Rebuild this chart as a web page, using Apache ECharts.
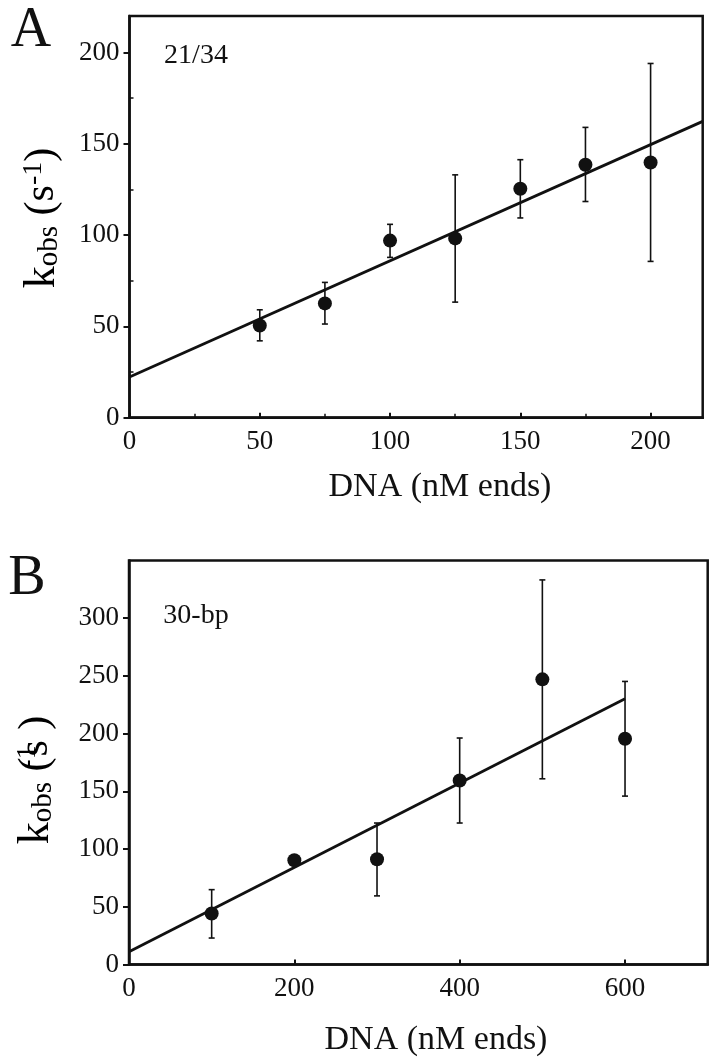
<!DOCTYPE html>
<html>
<head>
<meta charset="utf-8">
<style>
  html, body { margin: 0; padding: 0; background: #ffffff; }
  #chart { width: 716px; height: 1062px; }
</style>
<script src="https://cdn.jsdelivr.net/npm/echarts@6/dist/echarts.min.js"></script>
</head>
<body>
<div id="chart"></div>
<script>
// ---------- Panel A (21/34) ----------
const xA   = [50, 75, 100, 125, 150, 175, 200];
const yA   = [50.5, 62.6, 97.0, 98.2, 125.4, 138.5, 139.8];
const loA  = [42.1, 51.3, 87.8, 63.3, 109.4, 118.4, 85.6];
const hiA  = [59.1, 74.1, 105.9, 133.0, 141.3, 159.0, 194.0];
const fitXA = [0, 220];
const fitYA = [22.3, 162.3];
const xTicksA = [0, 50, 100, 150, 200];
const xMinorA = [25, 75, 125, 175];
const yTicksA = [0, 50, 100, 150, 200];
const yMinorA = [25, 75, 125, 175];

// ---------- Panel B (30-bp) ----------
const xB   = [100, 200, 300, 400, 500, 600];
const yB   = [44.3, 90.3, 91.2, 159.4, 247.0, 195.6];
const loB  = [23.0, null, 59.5, 122.6, 160.9, 145.9];
const hiB  = [64.9, null, 122.6, 196.2, 333.1, 245.2];
const fitXB = [0, 600];
const fitYB = [11.1, 230.3];
const xTicksB = [0, 200, 400, 600];
const yTicksB = [0, 50, 100, 150, 200, 250, 300];

const INK = '#111111';
const SERIF = '"Liberation Serif", "DejaVu Serif", "Times New Roman", serif';

const chart = echarts.init(document.getElementById('chart'), null, { renderer: 'canvas' });

function errRender(params, api) {
  const x = api.value(0), lo = api.value(1), hi = api.value(2);
  const pLo = api.coord([x, lo]);
  const pHi = api.coord([x, hi]);
  const cap = 3;
  const st = { stroke: INK, lineWidth: 1.6 };
  return {
    type: 'group',
    children: [
      { type: 'line', shape: { x1: pLo[0], y1: pLo[1], x2: pHi[0], y2: pHi[1] }, style: st },
      { type: 'line', shape: { x1: pHi[0] - cap, y1: pHi[1], x2: pHi[0] + cap, y2: pHi[1] }, style: st },
      { type: 'line', shape: { x1: pLo[0] - cap, y1: pLo[1], x2: pLo[0] + cap, y2: pLo[1] }, style: st }
    ]
  };
}

function mainX(grid, min, max, ticks) {
  return {
    gridIndex: grid, type: 'value', min: min, max: max, position: 'bottom',
    axisLine: { onZero: false, lineStyle: { color: INK, width: 2.5 } },
    axisTick: { inside: true, length: 5, customValues: ticks, lineStyle: { color: INK, width: 2 } },
    axisLabel: { customValues: ticks, margin: 11, fontSize: 27, color: INK, fontFamily: SERIF },
    splitLine: { show: false }
  };
}
function mainY(grid, min, max, ticks) {
  return {
    gridIndex: grid, type: 'value', min: min, max: max, position: 'left',
    axisLine: { onZero: false, lineStyle: { color: INK, width: 2.5 } },
    axisTick: { inside: false, length: 6, customValues: ticks, lineStyle: { color: INK, width: 2 } },
    axisLabel: { customValues: ticks, margin: 10, fontSize: 27, color: INK, fontFamily: SERIF },
    splitLine: { show: false }
  };
}
function minorAxis(grid, min, max, ticks, pos) {
  return {
    gridIndex: grid, type: 'value', min: min, max: max, position: pos,
    axisLine: { show: false, onZero: false },
    axisTick: { inside: true, length: 4, customValues: ticks, lineStyle: { color: INK, width: 1.5 } },
    axisLabel: { show: false },
    splitLine: { show: false }
  };
}

const yLabelRich = {
  k:   { fontSize: 44, fontFamily: SERIF, color: INK },
  sub: { fontSize: 29, fontFamily: SERIF, color: INK, verticalAlign: 'bottom' },
  p:   { fontSize: 42, fontFamily: SERIF, color: INK },
  sup: { fontSize: 28, fontFamily: SERIF, color: INK, verticalAlign: 'top' },
  supo:{ fontSize: 28, fontFamily: SERIF, color: INK, verticalAlign: 'top', width: 1 }
};

const option = {
  animation: false,
  backgroundColor: '#ffffff',
  grid: [
    { left: 129.5, top: 16, right: 13.3, bottom: 644.3, show: true, borderColor: INK, borderWidth: 2.5, containLabel: false },
    { left: 129, top: 560.4, right: 8.3, bottom: 97.4, show: true, borderColor: INK, borderWidth: 2.5, containLabel: false }
  ],
  xAxis: [
    mainX(0, 0, 220, xTicksA),
    minorAxis(0, 0, 220, xMinorA, 'bottom'),
    mainX(1, 0, 700, xTicksB)
  ],
  yAxis: [
    mainY(0, 0, 220, yTicksA),
    minorAxis(0, 0, 220, yMinorA, 'left'),
    mainY(1, 0, 350, yTicksB)
  ],
  graphic: [
    { type: 'text', x: 31, y: 31, style: { text: 'A', font: '56px ' + SERIF, fill: INK, align: 'center', verticalAlign: 'middle' } },
    { type: 'text', x: 27, y: 579, style: { text: 'B', font: '56px ' + SERIF, fill: INK, align: 'center', verticalAlign: 'middle' } },
    { type: 'text', x: 196, y: 56, style: { text: '21/34', font: '28px ' + SERIF, fill: INK, align: 'center', verticalAlign: 'middle' } },
    { type: 'text', x: 196, y: 616, style: { text: '30-bp', font: '28px ' + SERIF, fill: INK, align: 'center', verticalAlign: 'middle' } },
    { type: 'text', x: 440, y: 487, style: { text: 'DNA (nM ends)', font: '34px ' + SERIF, fill: INK, align: 'center', verticalAlign: 'middle' } },
    { type: 'text', x: 436, y: 1040, style: { text: 'DNA (nM ends)', font: '34px ' + SERIF, fill: INK, align: 'center', verticalAlign: 'middle' } },
    { type: 'text', x: 42, y: 218, rotation: Math.PI / 2,
      style: { text: '{k|k}{sub|obs}{p| (s}{sup|-1}{p|)}', rich: yLabelRich, align: 'center', verticalAlign: 'middle' } },
    { type: 'text', x: 36, y: 780, rotation: Math.PI / 2,
      style: { text: '{k|k}{sub|obs}{p| (}{supo|-1}{p|s )}', rich: yLabelRich, align: 'center', verticalAlign: 'middle' } }
  ],
  series: [
    { type: 'line', xAxisIndex: 0, yAxisIndex: 0, data: fitXA.map((x, i) => [x, fitYA[i]]),
      showSymbol: false, symbol: 'none', lineStyle: { color: INK, width: 2.8 }, z: 2 },
    { type: 'custom', xAxisIndex: 0, yAxisIndex: 0, renderItem: errRender,
      encode: { x: 0, y: [1, 2] }, data: xA.map((x, i) => [x, loA[i], hiA[i]]), z: 3 },
    { type: 'scatter', xAxisIndex: 0, yAxisIndex: 0, data: xA.map((x, i) => [x, yA[i]]),
      symbol: 'circle', symbolSize: 14, itemStyle: { color: INK, opacity: 1 }, z: 4 },

    { type: 'line', xAxisIndex: 2, yAxisIndex: 2, data: fitXB.map((x, i) => [x, fitYB[i]]),
      showSymbol: false, symbol: 'none', lineStyle: { color: INK, width: 2.8 }, z: 2 },
    { type: 'custom', xAxisIndex: 2, yAxisIndex: 2, renderItem: errRender,
      encode: { x: 0, y: [1, 2] },
      data: xB.map((x, i) => [x, loB[i], hiB[i]]).filter(d => d[1] !== null), z: 3 },
    { type: 'scatter', xAxisIndex: 2, yAxisIndex: 2, data: xB.map((x, i) => [x, yB[i]]),
      symbol: 'circle', symbolSize: 14, itemStyle: { color: INK, opacity: 1 }, z: 4 }
  ]
};
chart.setOption(option);
</script>
</body>
</html>
